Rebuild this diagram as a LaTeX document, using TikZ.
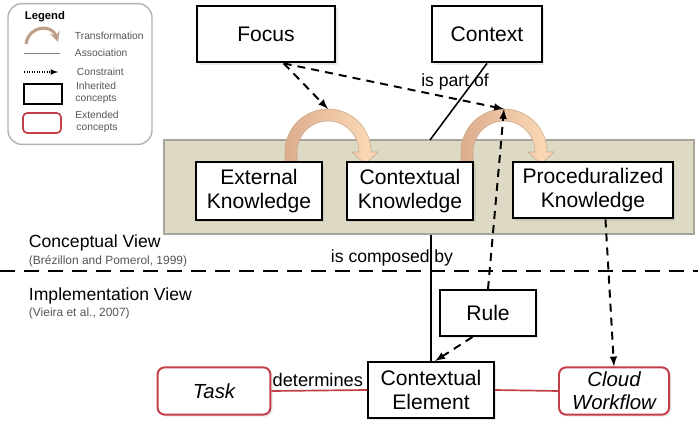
\documentclass[tikz,border=0pt]{standalone}
\usepackage{fontspec}
\setmainfont{Liberation Sans}
\usetikzlibrary{arrows,shadows}

\definecolor{tanbg}{RGB}{221,217,196}
\definecolor{tanline}{RGB}{168,166,154}
\definecolor{extred}{RGB}{196,62,72}
\definecolor{arcdark}{RGB}{220,172,142}
\definecolor{arclight}{RGB}{253,220,186}
\definecolor{arcline}{RGB}{200,168,138}
\definecolor{leggray}{RGB}{85,85,85}

\begin{document}
\begin{tikzpicture}[x=0.025cm, y=-0.025cm]
        \tikzstyle{box} = [draw, line width=1.4pt, fill=white, align=center, inner sep=2pt, font=\fontsize{15}{16.5}\selectfont, drop shadow={opacity=0.18, shadow xshift=1.5pt, shadow yshift=-1.5pt}]
        \tikzstyle{extbox} = [box, draw=extred, rounded corners=5pt, font=\fontsize{14.5}{16.5}\selectfont\itshape]
        \tikzstyle{lbl} = [font=\fontsize{12.5}{14}\selectfont]
        \tikzstyle{viewlbl} = [anchor=west, font=\fontsize{12.5}{14}\selectfont]
        \tikzstyle{ref} = [anchor=west, font=\fontsize{8.5}{10}\selectfont, text=leggray]
        \tikzstyle{leg} = [anchor=west, font=\fontsize{7.3}{8.3}\selectfont, text=leggray]
        \tikzstyle{constr} = [-latex, line width=1.4pt, dash pattern=on 5.7pt off 4.3pt]
        \tikzstyle{assoc} = [line width=1.1pt]
        \tikzstyle{extline} = [draw=extred, line width=1.2pt]

        \useasboundingbox (0,0) rectangle (698,421);

        % legend
        \node (legend) [draw=gray!60, line width=1pt, rounded corners=10pt, minimum width=3.6cm, minimum height=3.52cm] at (80,74) {};
        \node (legtitle) [anchor=west, font=\fontsize{8}{9}\selectfont\bfseries] at (20,17) {Legend};
        \draw[line width=2.2pt, arcdark!70!gray, -stealth] (26,44) .. controls (29,25) and (52,24) .. (58,42);
        \node (legtrans) [leg] at (70,36) {Transformation};
        \draw[gray, line width=0.6pt] (24,53) -- (60,53);
        \node (legassoc) [leg] at (70,53) {Association};
        \draw[densely dotted, -latex, line width=0.8pt] (24,72) -- (58,72);
        \node (legconstr) [leg] at (72,72) {Constraint};
        \node (leginh) [draw, line width=1.4pt, minimum width=0.95cm, minimum height=0.52cm] at (43,94) {};
        \node (leginhtxt) [leg, anchor=center, align=center] at (96,93) {Inherited\\concepts};
        \node (legext) [draw=extred, line width=1.2pt, rounded corners=3pt, minimum width=0.95cm, minimum height=0.5cm] at (42,123) {};
        \node (legexttxt) [leg, anchor=center, align=center] at (97,122) {Extended\\concepts};

        % conceptual layer
        \node (concview) [fill=tanbg, draw=tanline, line width=1.4pt, minimum width=13.25cm, minimum height=2.35cm] at (429,187) {};

        % transformation arcs
        \foreach \cx in {328,504} {
            \shade[left color=arcdark, right color=arclight, draw=arcline, line width=0.4pt]
                (\cx-43,166) -- (\cx-43,152) arc[start angle=180, end angle=360, radius=43]
                -- (\cx+50,152) -- (\cx+37,164) -- (\cx+24,152) -- (\cx+31,152)
                arc[start angle=360, end angle=180, radius=31] -- (\cx-31,166) -- cycle;
        }
        \coordinate (peakA) at (328,109);
        \coordinate (peakB) at (504,109);

        \node (focus) [box, minimum width=3.47cm, minimum height=1.42cm] at (266,34) {Focus};
        \node (context) [box, minimum width=2.75cm, minimum height=1.42cm] at (487,34) {Context};
        \node (extk) [box, minimum width=3.15cm, minimum height=1.45cm] at (259,191) {External\\Knowledge};
        \node (ctxk) [box, minimum width=3.17cm, minimum height=1.45cm] at (410,191) {Contextual\\Knowledge};
        \node (prock) [box, minimum width=4cm, minimum height=1.42cm] at (593,190) {Proceduralized\\Knowledge};

        % implementation layer
        \node (rule) [box, minimum width=2.4cm, minimum height=1.15cm] at (488,313) {Rule};
        \node (cel) [box, minimum width=3.15cm, minimum height=1.4cm] at (431,390) {Contextual\\Element};
        \node (task) [extbox, minimum width=2.82cm, minimum height=1.18cm] at (214,391) {Task};
        \node (cloud) [extbox, minimum width=2.75cm, minimum height=1.18cm] at (614,391) {Cloud\\Workflow};

        \node (conctxt) [viewlbl] at (24,243) {Conceptual View};
        \node (concref) [ref] at (24,261) {(Brézillon and Pomerol, 1999)};
        \node (impltxt) [viewlbl] at (24,296) {Implementation View};
        \node (implref) [ref] at (24,313) {(Vieira et al., 2007)};

        \coordinate (sepl) at (0,271);
        \coordinate (sepr) at (698,271);
        \draw[line width=1.4pt, dash pattern=on 10.6pt off 6.4pt] (sepl) -- (sepr);

        % connectors
        \coordinate (partof) at (430,140);
        \draw[assoc] (context.south) -- (partof);
        \node (partoftxt) [lbl] at (455,82) {is part of};

        \draw[constr] (focus.-59) -- (peakA);
        \draw[constr] (focus.-59) -- (peakB);
        \draw[constr] (rule.north) -- (peakB);

        \coordinate (composed) at (concview.south -| cel.north);
        \draw[assoc] (composed) -- (cel.north);
        \node (composedtxt) [lbl] at (392,258) {is composed by};

        \draw[constr] (rule.-123) -- (cel.82);
        \draw[constr] (prock.-67) -- (cloud.north);

        \draw[extline] (task.east) -- (cel.west);
        \draw[extline] (cel.east) -- (cloud.west);
        \node (determtxt) [lbl, anchor=east, font=\fontsize{13}{15}\selectfont] at (368,380) {determines};

\end{tikzpicture}
\end{document}
